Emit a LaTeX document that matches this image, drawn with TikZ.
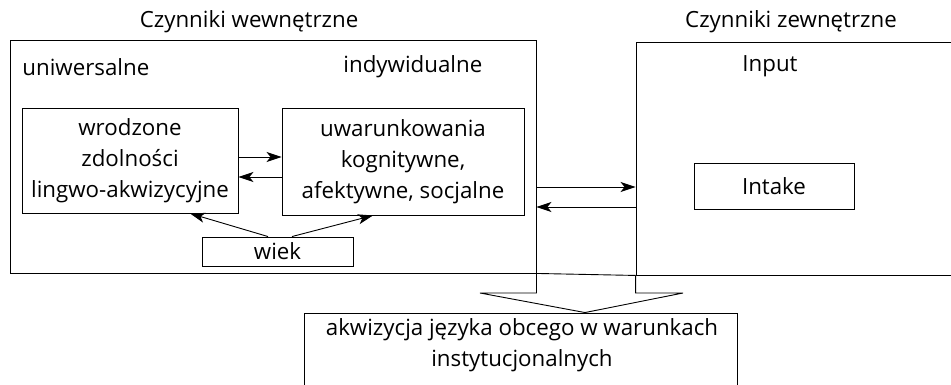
\documentclass[tikz,border=0pt]{standalone}
\usepackage{fontspec}
\setmainfont{Open Sans}
\usetikzlibrary{arrows.meta,calc}
\begin{document}
\begin{tikzpicture}[x=1pt,y=-1pt, line width=0.9pt,
  box/.style={draw, inner sep=0pt, anchor=center},
  txt/.style={font=\fontsize{22.3}{31}\selectfont, inner sep=0pt, align=center},
  arr/.style={-{Stealth[length=15pt,width=10pt,inset=4pt]}}]
\useasboundingbox (0,0) rectangle (951,385);
% outer boxes
\node[box, minimum width=526pt, minimum height=233pt] (inner) at (273,156.5) {};
\node[box, minimum width=334pt, minimum height=233pt] (ext) at (803,158.5) {};
% titles
\node[txt] (t1) at (249,22) {Czynniki wewnętrzne};
\node[txt] (t2) at (791,22) {Czynniki zewnętrzne};
\node[txt, anchor=west] (uni) at (22,67) {uniwersalne};
\node[txt, anchor=west] (ind) at (343,67) {indywidualne};
\node[txt] (inp) at (770,66) {Input};
% inner boxes
\node[box, txt, minimum width=216pt, minimum height=105pt] (wro) at (130,160.5)
  {wrodzone\\zdolności\\lingwo-akwizycyjne};
\node[box, txt, minimum width=242pt, minimum height=107pt] (uwa) at (403,161.5)
  {uwarunkowania\\kognitywne,\\afektywne, socjalne};
\node[box, txt, minimum width=151pt, minimum height=29pt] (wiek) at (277.5,251.5) {wiek};
\node[box, txt, minimum width=160pt, minimum height=46pt] (intake) at (774,186) {Intake};
\node[box, minimum width=433pt, minimum height=90pt] (bot) at (520.5,358) {};
\node[txt, anchor=north] (bottxt) at (522,318) {akwizycja języka obcego w warunkach\\instytucjonalnych};
% connectors
\draw[arr] (wro.east |- 0,157) -- (uwa.west |- 0,157);
\draw[arr] (uwa.west |- 0,177) -- (wro.east |- 0,177);
\draw[arr] ([xshift=-9.5pt]wiek.north) -- ([xshift=60pt]wro.south);
\draw[arr] ([xshift=14.5pt]wiek.north) -- ([xshift=-30pt]uwa.south);
\draw[arr] (inner.east |- 0,187) -- (ext.west |- 0,187);
\draw[arr] (ext.west |- 0,207) -- (inner.east |- 0,207);
% block arrow
\draw (inner.south east) -- (ext.south west);
\draw (inner.south east) -- (inner.south east |- 0,293) -- (480,293)
  -- (bot.north -| 585,0) -- (683,293) -- (ext.south west |- 0,293) -- (ext.south west);
\end{tikzpicture}
\end{document}
